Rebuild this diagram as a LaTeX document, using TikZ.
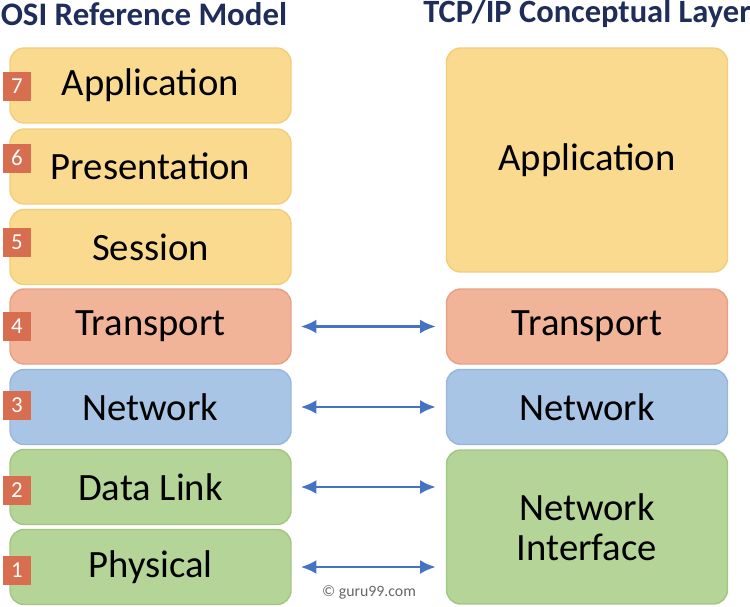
\documentclass[tikz,border=0pt]{standalone}
\usepackage{fontspec}
\setmainfont{Carlito}
\usepackage{tikz}
\usetikzlibrary{arrows.meta}

\definecolor{titleblue}{RGB}{31,45,90}
\definecolor{appyellow}{RGB}{250,218,142}
\definecolor{appyellowline}{RGB}{243,205,120}
\definecolor{transorange}{RGB}{241,180,152}
\definecolor{transorangeline}{RGB}{232,160,130}
\definecolor{netblue}{RGB}{168,197,230}
\definecolor{netblueline}{RGB}{150,182,220}
\definecolor{linkgreen}{RGB}{180,212,152}
\definecolor{linkgreenline}{RGB}{160,198,130}
\definecolor{badgered}{RGB}{216,110,80}
\definecolor{arrowblue}{RGB}{68,114,196}

\tikzset{
  layer/.style={rounded corners=8pt, line width=0.8pt, minimum width=5.62cm,
    minimum height=1.5cm, font=\fontsize{22}{27}\selectfont, align=center},
  badge/.style={fill=badgered, text=white, minimum size=0.58cm, inner sep=0pt,
    font=\fontsize{13}{15}\selectfont},
  link/.style={{Latex[length=9pt,width=8pt]}-{Latex[length=9pt,width=8pt]},
    arrowblue, line width=1.6pt, shorten <=0.18cm, shorten >=0.2cm}
}

\begin{document}
\begin{tikzpicture}[x=0.02cm, y=-0.02cm]
\useasboundingbox (0,0) rectangle (750,606);

% titles
\node[anchor=center, font=\bfseries\fontsize{18.7}{22}\selectfont, text=titleblue] (osititle) at (144,14) {OSI Reference Model};
\node[anchor=center, font=\bfseries\fontsize{18.5}{22}\selectfont, text=titleblue] (tcptitle) at (587,14) {TCP/IP Conceptual Layer};

% OSI layers
\node[layer, fill=appyellow, draw=appyellowline] (osiapp) at (150.5,85.5) {Application};
\node[layer, fill=appyellow, draw=appyellowline] (osipres) at (150.5,166.5) {Presentation};
\node[layer, fill=appyellow, draw=appyellowline] (osisess) at (150.5,247) {Session};
\node[layer, fill=transorange, draw=transorangeline] (ositrans) at (150.5,326.5) {Transport};
\node[layer, fill=netblue, draw=netblueline] (osinet) at (150.5,407) {Network};
\node[layer, fill=linkgreen, draw=linkgreenline] (osilink) at (150.5,487) {Data Link};
\node[layer, fill=linkgreen, draw=linkgreenline] (osiphys) at (150.5,567) {Physical};

% layer numbers
\node[badge] (num7) at (17,86) {7};
\node[badge] (num6) at (17,158) {6};
\node[badge] (num5) at (17,242) {5};
\node[badge] (num4) at (17,326) {4};
\node[badge] (num3) at (17,405) {3};
\node[badge] (num2) at (17,490) {2};
\node[badge] (num1) at (17,570) {1};

% TCP/IP layers
\node[layer, fill=appyellow, draw=appyellowline, minimum height=4.48cm] (tcpapp) at (587,160) {Application};
\node[layer, fill=transorange, draw=transorangeline] (tcptrans) at (587,326.5) {Transport};
\node[layer, fill=netblue, draw=netblueline] (tcpnet) at (587,407) {Network};
\node[layer, fill=linkgreen, draw=linkgreenline, minimum height=3.08cm] (tcpif) at (587,527) {Network\\[-4pt]Interface};

% arrows
\draw[link] (ositrans.east) -- (tcptrans.west);
\draw[link] (osinet.east) -- (tcpnet.west);
\draw[link] (osilink.east) -- (tcpif.west |- osilink.east);
\draw[link] (osiphys.east) -- (tcpif.west |- osiphys.east);

\node[text=gray!80!black, font=\fontsize{9}{11}\selectfont] (copy) at (369,592) {\textcopyright\ guru99.com};
\end{tikzpicture}
\end{document}
